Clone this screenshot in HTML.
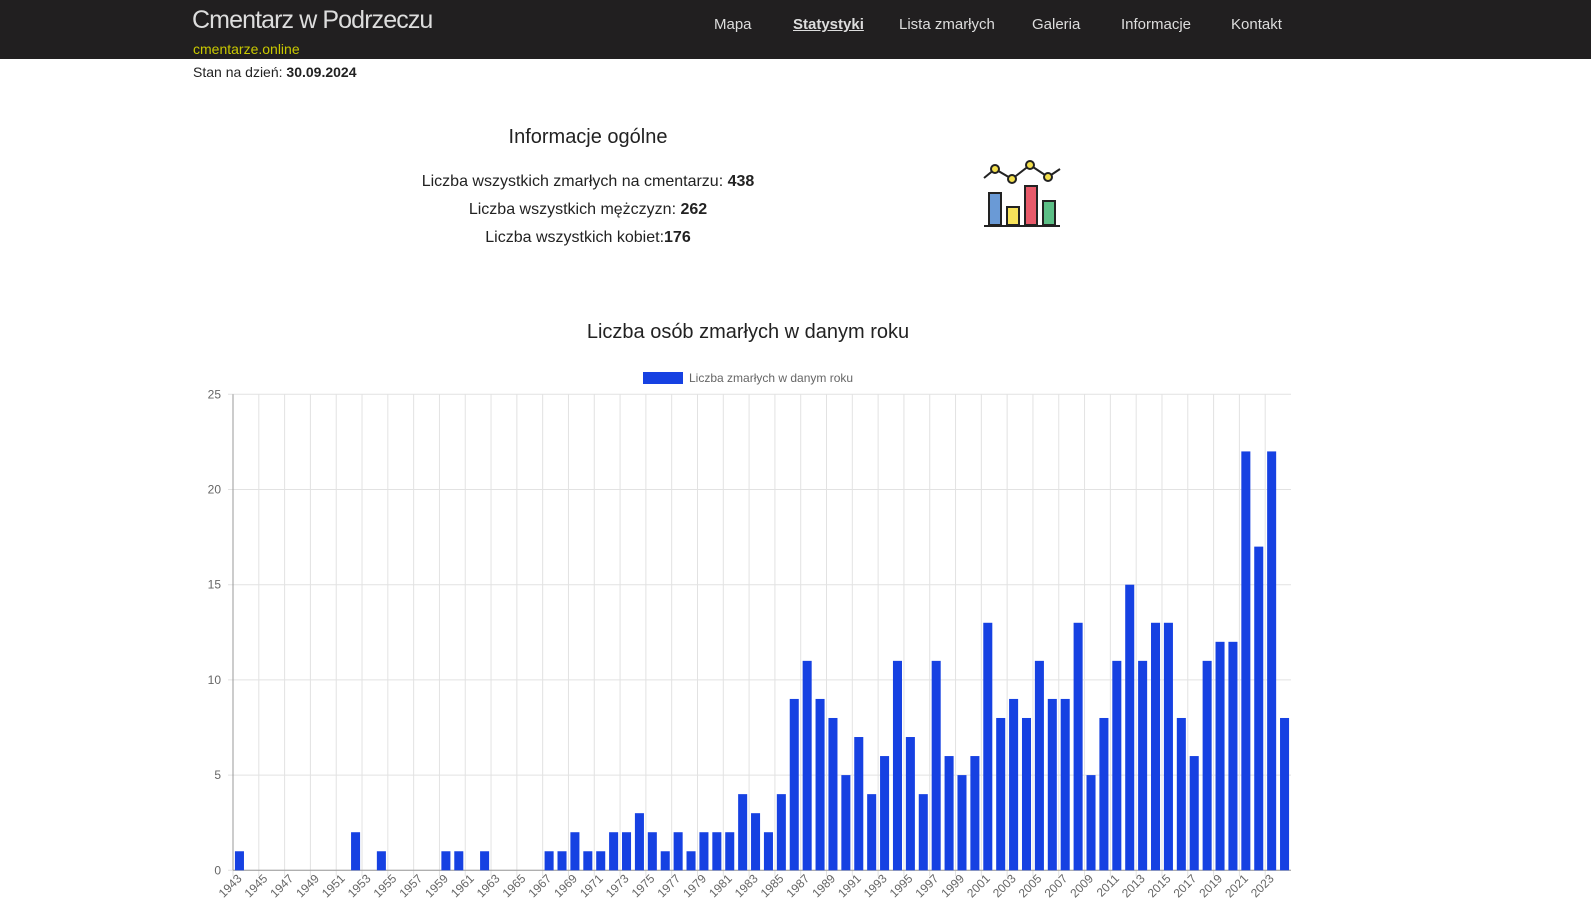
<!DOCTYPE html>
<html><head><meta charset="utf-8"><style>
body{margin:0;width:1591px;height:905px;background:#fff;font-family:"Liberation Sans",sans-serif;overflow:hidden;position:relative}
.hdr{position:absolute;left:0;top:0;width:1591px;height:59px;background:#211f20}
.abs{position:absolute;white-space:nowrap}
.nav{color:#ddd;font-size:15px;top:16px}
.c{text-align:center;transform:translateX(-50%)}
</style></head><body>
<div class="hdr"></div>
<div class="abs" style="left:192px;top:6px;font-size:25px;color:#ddd;letter-spacing:-0.9px">Cmentarz w Podrzeczu</div>
<div class="abs" style="left:193px;top:41px;font-size:14px;color:#c9c900">cmentarze.online</div>
<div class="abs nav" style="left:714px">Mapa</div>
<div class="abs nav" style="left:793px;font-weight:bold;text-decoration:underline">Statystyki</div>
<div class="abs nav" style="left:899px">Lista zmarłych</div>
<div class="abs nav" style="left:1032px">Galeria</div>
<div class="abs nav" style="left:1121px">Informacje</div>
<div class="abs nav" style="left:1231px">Kontakt</div>
<div class="abs" style="left:193px;top:64px;font-size:14px;color:#222">Stan na dzień: <b>30.09.2024</b></div>
<div class="abs c" style="left:588px;top:126px;font-size:20px;color:#222">Informacje ogólne</div>
<div class="abs c" style="left:588px;top:173px;font-size:16px;color:#222">Liczba wszystkich zmarłych na cmentarzu: <b>438</b></div>
<div class="abs c" style="left:588px;top:201px;font-size:16px;color:#222">Liczba wszystkich mężczyzn: <b>262</b></div>
<div class="abs c" style="left:588px;top:229px;font-size:16px;color:#222">Liczba wszystkich kobiet:<b>176</b></div>
<svg class="abs" style="left:980px;top:156px" width="90" height="80" viewBox="0 0 90 80">
<polyline points="4,22 15,13 32,23 50,9 68,21 80,13" fill="none" stroke="#222" stroke-width="2"/>
<circle cx="15" cy="13" r="4" fill="#f4e04d" stroke="#222" stroke-width="2"/><circle cx="32" cy="23" r="4" fill="#f4e04d" stroke="#222" stroke-width="2"/>
<circle cx="50" cy="9" r="4" fill="#f4e04d" stroke="#222" stroke-width="2"/><circle cx="68" cy="21" r="4" fill="#f4e04d" stroke="#222" stroke-width="2"/>
<rect x="9" y="37" width="12" height="32" fill="#6a9ad6" stroke="#222" stroke-width="2"/>
<rect x="27" y="51" width="12" height="18" fill="#f7e35a" stroke="#222" stroke-width="2"/>
<rect x="45" y="30" width="12" height="39" fill="#e85a6a" stroke="#222" stroke-width="2"/>
<rect x="63" y="45" width="12" height="24" fill="#5cbf86" stroke="#222" stroke-width="2"/>
<line x1="4" y1="70" x2="80" y2="70" stroke="#222" stroke-width="2"/>
</svg>
<div class="abs c" style="left:748px;top:321px;font-size:20px;color:#222">Liczba osób zmarłych w danym roku</div>
<svg id="chart" class="abs" style="left:0;top:0" width="1591" height="905"></svg>
<script>
const years=[];for(let y=1943;y<=2024;y++)years.push(y);
const values=[1,0,0,0,0,0,0,0,0,2,0,1,0,0,0,0,1,1,0,1,0,0,0,0,1,1,
2,1,1,2,2,3,2,1,2,1,2,2,2,4,3,2,4,
9,11,9,8,5,7,4,6,11,7,4,
11,6,5,6,13,8,9,8,11,9,9,13,
5,8,11,15,11,13,13,8,6,11,12,12,22,17,22,8];
const yTicks=[0,5,10,15,20,25];
const L=233,R=1291,T=394.3,B=870.3,yMax=25;
const svg=document.getElementById('chart');const NS='http://www.w3.org/2000/svg';
const bw=(R-L)/years.length;
const xs=i=>L+bw*(i+0.5);const ys=v=>B-(v/yMax)*(B-T);
function mk(t,a){const e=document.createElementNS(NS,t);for(const k in a)e.setAttribute(k,a[k]);svg.appendChild(e);return e;}
yTicks.forEach(v=>{const g=mk('line',{x1:L-5,x2:R,y1:ys(v),y2:ys(v),stroke:'#e2e2e2'});


const t=mk('text',{x:L-12,y:ys(v)+4,'text-anchor':'end','font-size':12,fill:'#666','font-family':'Liberation Sans'});t.textContent=v;

});
years.forEach((yr,i)=>{if(i%2)return;const x=L+bw*i;
const g=mk('line',{x1:x,x2:x,y1:T,y2:B+6,stroke:'#e2e2e2'});


const tx=xs(i)+3,ty=B+9;
const t=mk('text',{x:tx,y:ty,'text-anchor':'end','font-size':12,fill:'#666','font-family':'Liberation Sans',transform:`rotate(-45 ${tx} ${ty})`});t.textContent=yr;

});
mk('line',{x1:L,x2:L,y1:T,y2:B,stroke:'#999'});mk('line',{x1:L,x2:R,y1:B,y2:B,stroke:'#999'});
values.forEach((v,i)=>{if(!v)return;const w=bw*0.7;
const r=mk('rect',{x:xs(i)-w/2,y:ys(v),width:w,height:B-ys(v),fill:'#1641e2'});

});
const lb=mk('rect',{x:643,y:372,width:40,height:12,fill:'#1641e2'});


const lt=mk('text',{x:689,y:382,'font-size':12,fill:'#666','font-family':'Liberation Sans'});lt.textContent='Liczba zmarłych w danym roku';


</script>
</body></html>
